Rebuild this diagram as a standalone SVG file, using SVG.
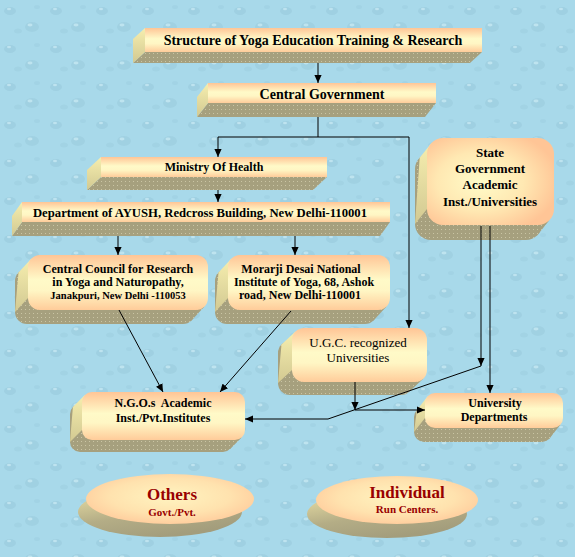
<svg xmlns="http://www.w3.org/2000/svg" width="575" height="557" viewBox="0 0 575 557">
<defs>
<style>
.t{font-family:"Liberation Serif","Times New Roman",serif;font-weight:bold;fill:#000;text-anchor:middle}
.n{font-family:"Liberation Serif","Times New Roman",serif;font-weight:normal;fill:#000;text-anchor:middle}
.r{font-family:"Liberation Serif","Times New Roman",serif;font-weight:bold;fill:#990000;text-anchor:middle}
.face{fill:url(#face)}
.side{fill:url(#side)}
.bot{fill:url(#dots)}
.c{fill:none;stroke:#000;stroke-width:1}
.a{marker-end:url(#ah)}
</style>
<pattern id="bg" width="46" height="38" patternUnits="userSpaceOnUse">
<rect width="46" height="38" fill="#a8d9ea"/>
<ellipse cx="10" cy="11" rx="6" ry="4" fill="#96c8da" opacity="0.55"/>
<ellipse cx="32" cy="27" rx="7" ry="5" fill="#96c8da" opacity="0.45"/>
<ellipse cx="9" cy="9" rx="2" ry="1.2" fill="#d2f0f8" opacity="0.6"/>
<ellipse cx="30" cy="25" rx="2.5" ry="1.4" fill="#d2f0f8" opacity="0.6"/>
<ellipse cx="37" cy="7" rx="3" ry="2" fill="#9ccddf" opacity="0.5"/>
<ellipse cx="18" cy="31" rx="4" ry="2.5" fill="#9ccddf" opacity="0.45"/>
</pattern>
<pattern id="dots" width="4" height="4" patternUnits="userSpaceOnUse">
<rect width="4" height="4" fill="#a6a07e"/>
<rect x="1" y="1" width="1" height="1" fill="#cac5a4"/>
</pattern>
<linearGradient id="face" x1="0" y1="0" x2="0" y2="1">
<stop offset="0" stop-color="#ffc596"/>
<stop offset="0.45" stop-color="#fffac8"/>
<stop offset="0.65" stop-color="#fff6c4"/>
<stop offset="1" stop-color="#ffcc9a"/>
</linearGradient>
<linearGradient id="side" x1="0" y1="0" x2="0" y2="1">
<stop offset="0" stop-color="#f6eeae"/>
<stop offset="1" stop-color="#d2c992"/>
</linearGradient>
<radialGradient id="rad" cx="0.42" cy="0.5" r="0.62">
<stop offset="0" stop-color="#fffcc8"/>
<stop offset="0.55" stop-color="#ffe8b2"/>
<stop offset="1" stop-color="#ffc596"/>
</radialGradient>
<radialGradient id="ell" cx="0.5" cy="0.45" r="0.6">
<stop offset="0" stop-color="#fff4c0"/>
<stop offset="0.6" stop-color="#ffe2ae"/>
<stop offset="1" stop-color="#ffc99a"/>
</radialGradient>
<linearGradient id="eshadow" x1="0" y1="0" x2="0.5" y2="1">
<stop offset="0" stop-color="#efe5a8"/>
<stop offset="0.6" stop-color="#b4ad86"/>
<stop offset="1" stop-color="#a39d7c"/>
</linearGradient>
<marker id="ah" viewBox="0 0 10 10" refX="10" refY="5" markerWidth="8" markerHeight="8" orient="auto" markerUnits="userSpaceOnUse">
<path d="M0,0.5 L10,5 L0,9.5 z" fill="#000"/>
</marker>
</defs>

<rect width="575" height="557" fill="url(#bg)"/>

<g id="title">
<polygon class="bot" points="145,52 133,63 470,63 482,52"/>
<polygon class="side" points="145,28 133,39 133,63 145,52"/>
<rect class="face" x="145" y="28" width="337" height="24"/>
<text class="t" x="313" y="45" font-size="14">Structure of Yoga Education Training &amp; Research</text>
</g>

<g id="central-government">
<polygon class="bot" points="208,103 197,117 425,117 436,103"/>
<polygon class="side" points="208,83 197,97 197,117 208,103"/>
<rect class="face" x="208" y="83" width="228" height="20"/>
<text class="t" x="322" y="99" font-size="14">Central Government</text>
</g>

<g id="ministry-of-health">
<polygon class="bot" points="101,177 87,190 313,190 327,177"/>
<polygon class="side" points="101,157 87,170 87,190 101,177"/>
<rect class="face" x="101" y="157" width="226" height="20"/>
<text class="t" x="214" y="171" font-size="12">Ministry Of Health</text>
</g>

<g id="ayush">
<polygon class="bot" points="22,222 12,236 380,236 390,222"/>
<polygon class="side" points="22,202 12,216 12,236 22,222"/>
<rect class="face" x="22" y="202" width="368" height="20"/>
<text class="t" x="200" y="217" font-size="12.7">Department of AYUSH, Redcross Building, New Delhi-110001</text>
</g>

<g id="ccryn">
<rect class="bot" x="15" y="269" width="180" height="55" rx="12"/>
<polygon class="bot" points="40,310 27,324 191.5,320.5 204.5,306.5"/>
<polygon class="side" points="31.5,258.5 18.5,272.5 15,312 28,298"/>
<rect class="face" x="28" y="255" width="180" height="55" rx="12"/>
<text class="t" x="118" y="273" font-size="12">Central Council for Research</text>
<text class="t" x="118" y="286" font-size="12">in Yoga and Naturopathy,</text>
<text class="t" x="118" y="299" font-size="10.5">Janakpuri, New Delhi -110053</text>
</g>

<g id="mdniy">
<rect class="bot" x="215" y="269" width="162" height="55" rx="12"/>
<polygon class="bot" points="240,310 227,324 373.5,320.5 386.5,306.5"/>
<polygon class="side" points="231.5,258.5 218.5,272.5 215,312 228,298"/>
<rect class="face" x="228" y="255" width="162" height="55" rx="12"/>
<text class="t" x="301" y="273" font-size="12">Morarji Desai National</text>
<text class="t" x="304" y="286" font-size="12">Institute of Yoga, 68, Ashok</text>
<text class="t" x="300" y="299" font-size="12">road, New Delhi-110001</text>
</g>

<g id="state-government">
<rect class="bot" x="415" y="153" width="127" height="87" rx="16"/>
<polygon class="bot" points="443,225 431,240 537.3,235.3 549.3,220.3"/>
<polygon class="side" points="431.7,142.7 419.7,157.7 415,224 427,209"/>
<rect x="427" y="138" width="127" height="87" rx="16" fill="url(#rad)"/>
<text class="t" x="490" y="157" font-size="13">State</text>
<text class="t" x="490" y="173" font-size="13">Government</text>
<text class="t" x="490" y="189" font-size="13">Academic</text>
<text class="t" x="490" y="206" font-size="13">Inst./Universities</text>
</g>

<g id="ugc">
<rect class="bot" x="278" y="341" width="135" height="54" rx="12"/>
<polygon class="bot" points="304,382 290,395 409.5,391.5 423.5,378.5"/>
<polygon class="side" points="295.5,331.5 281.5,344.5 278,383 292,370"/>
<rect class="face" x="292" y="328" width="135" height="54" rx="12"/>
<text class="n" x="358" y="347" font-size="13">U.G.C. recognized</text>
<text class="n" x="358" y="362" font-size="13">Universities</text>
</g>

<g id="ngo">
<rect class="bot" x="70" y="404" width="163" height="48" rx="10"/>
<polygon class="bot" points="92,440 80,452 230.1,449.1 242.1,437.1"/>
<polygon class="side" points="84.9,394.9 72.9,406.9 70,442 82,430"/>
<rect class="face" x="82" y="392" width="163" height="48" rx="10"/>
<text class="t" x="163" y="407" font-size="12" xml:space="preserve">N.G.O.s  Academic</text>
<text class="t" x="163" y="422" font-size="12">Inst./Pvt.Institutes</text>
</g>

<g id="university-departments">
<rect class="bot" x="414" y="407" width="138" height="35" rx="10"/>
<polygon class="bot" points="435,428 424,442 549.1,439.1 560.1,425.1"/>
<polygon class="side" points="427.9,395.9 416.9,409.9 414,432 425,418"/>
<rect class="face" x="425" y="393" width="138" height="35" rx="10"/>
<text class="t" x="495" y="407" font-size="12">University</text>
<text class="t" x="494" y="421" font-size="12">Departments</text>
</g>

<g id="others">
<ellipse cx="160" cy="512" rx="82" ry="25" fill="url(#eshadow)"/>
<ellipse cx="170" cy="499" rx="84" ry="25" fill="url(#ell)"/>
<text class="r" x="172" y="500" font-size="17">Others</text>
<text class="r" x="172" y="516" font-size="11">Govt./Pvt.</text>
</g>

<g id="individual">
<ellipse cx="387" cy="514" rx="80" ry="24" fill="url(#eshadow)"/>
<ellipse cx="397" cy="500" rx="81" ry="24" fill="url(#ell)"/>
<text class="r" x="407" y="498" font-size="17">Individual</text>
<text class="r" x="407" y="513" font-size="11">Run Centers.</text>
</g>

<g id="connectors">
<path class="c a" d="M318,63 V83"/>
<path class="c a" d="M318,117 V137 H218 V157"/>
<path class="c a" d="M318,137 H409 V328"/>
<path class="c a" d="M218,190 V202"/>
<path class="c a" d="M118,236 V255"/>
<path class="c a" d="M295,236 V255"/>
<path class="c a" d="M119,310 L163,392"/>
<path class="c a" d="M291,311 L220,392"/>
<path class="c a" d="M355,382 V410"/>
<path class="c a" d="M355,410 H425"/>
<path class="c a" d="M481,226 V366"/>
<path class="c a" d="M481,366 L328,419 H245"/>
<path class="c a" d="M490,226 V393"/>
</g>
</svg>
